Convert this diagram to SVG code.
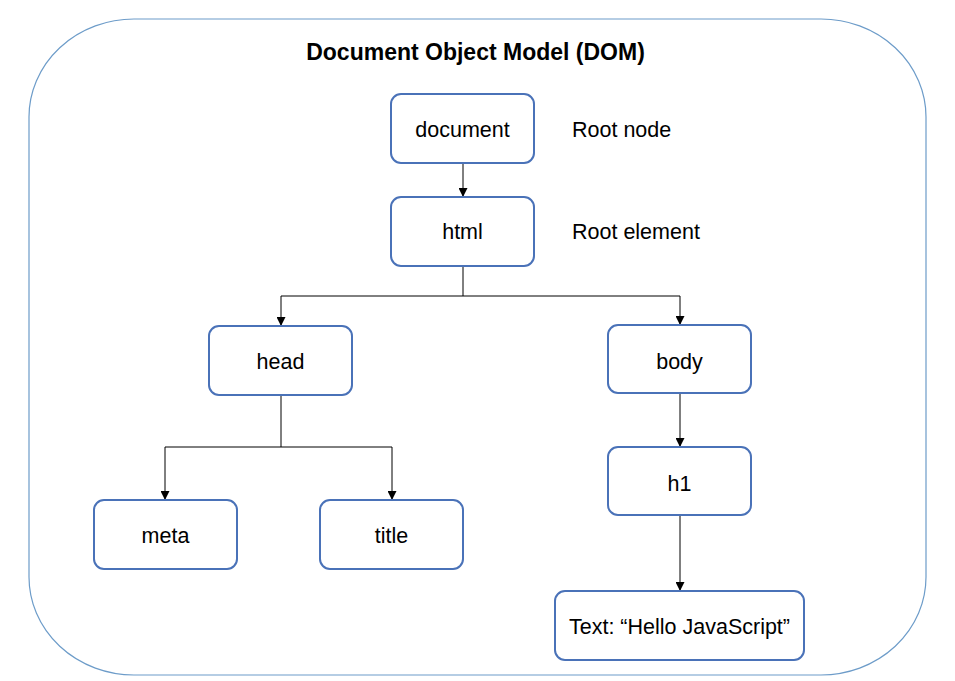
<svg xmlns="http://www.w3.org/2000/svg" width="955" height="681" viewBox="0 0 955 681">
<defs>
<style>
.node{fill:#fff;stroke:#4a72b8;stroke-width:2}
.lbl{font-family:"Liberation Sans",Arial,sans-serif;font-size:21.5px;fill:#000;text-anchor:middle}
.side{font-family:"Liberation Sans",Arial,sans-serif;font-size:21.5px;fill:#000}
.conn{fill:none;stroke:#000;stroke-width:1}
</style>
<marker id="arr" viewBox="0 0 10 10" refX="10" refY="5" markerWidth="9" markerHeight="9" markerUnits="userSpaceOnUse" orient="auto">
<path d="M0,0 L10,5 L0,10 z" fill="#000"/>
</marker>
</defs>
<rect width="955" height="681" fill="#fff"/>
<rect id="frame" x="29" y="19" width="897" height="656" rx="105" ry="98" fill="none" stroke="#6d9cc9" stroke-width="1.2"/>
<text x="475.5" y="59.5" font-family="'Liberation Sans',Arial,sans-serif" font-size="23" font-weight="bold" text-anchor="middle">Document Object Model (DOM)</text>
<g id="connectors">
<path class="conn" d="M463,163 V197" marker-end="url(#arr)"/>
<path class="conn" d="M463,266 V296 H281 V326" marker-end="url(#arr)"/>
<path class="conn" d="M463,296 H680 V325" marker-end="url(#arr)"/>
<path class="conn" d="M281,395 V447 H165 V500" marker-end="url(#arr)"/>
<path class="conn" d="M281,447 H392 V500" marker-end="url(#arr)"/>
<path class="conn" d="M680,393 V447" marker-end="url(#arr)"/>
<path class="conn" d="M680,515 V591" marker-end="url(#arr)"/>
</g>
<g id="document"><rect class="node" x="391" y="94" width="143" height="69" rx="10"/><text class="lbl" x="462.5" y="136.5">document</text></g>
<g id="html"><rect class="node" x="391" y="197" width="143" height="69" rx="10"/><text class="lbl" x="462.5" y="238.5">html</text></g>
<g id="head"><rect class="node" x="209" y="326" width="143" height="69" rx="10"/><text class="lbl" x="280.5" y="368.5">head</text></g>
<g id="body"><rect class="node" x="608" y="325" width="143" height="68" rx="10"/><text class="lbl" x="679.5" y="368.5">body</text></g>
<g id="meta"><rect class="node" x="94" y="500" width="143" height="69" rx="10"/><text class="lbl" x="165.5" y="542.5">meta</text></g>
<g id="title"><rect class="node" x="320" y="500" width="143" height="69" rx="10"/><text class="lbl" x="391.5" y="542.5">title</text></g>
<g id="h1"><rect class="node" x="608" y="447" width="143" height="68" rx="10"/><text class="lbl" x="679.5" y="490.5">h1</text></g>
<g id="text-node"><rect class="node" x="555" y="591" width="249" height="69" rx="10"/><text class="lbl" x="679.5" y="633.5">Text: “Hello JavaScript”</text></g>
<g id="root-node-label"><text class="side" x="572" y="136.5">Root node</text></g>
<g id="root-element-label"><text class="side" x="572" y="238.5">Root element</text></g>
</svg>
